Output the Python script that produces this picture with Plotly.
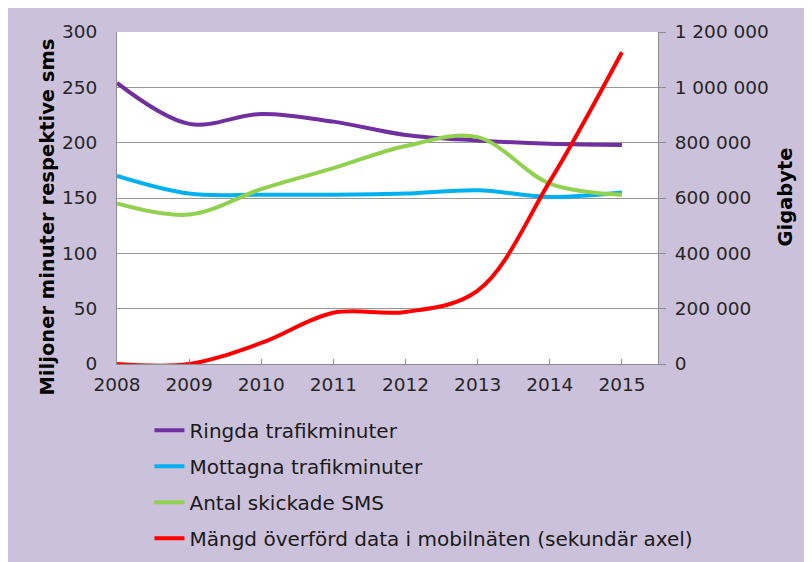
import plotly.graph_objects as go

years = [2008, 2009, 2010, 2011, 2012, 2013, 2014, 2015]
ringda = [254, 217, 226, 219, 207, 202, 199, 198]
mottagna = [170, 154, 153, 153, 154, 157, 151, 155]
sms = [145, 135, 158, 177, 197, 205, 163, 153]
data_gb = [0, 0, 76000, 185000, 188000, 265000, 660000, 1127000]

series_names = ["Ringda trafikminuter", "Mottagna trafikminuter", "Antal skickade SMS",
                "Mängd överförd data i mobilnäten (sekundär axel)"]
colors = ["#7030A0", "#00B0F0", "#92D050", "#FF0000"]

left_ticks = [0, 50, 100, 150, 200, 250, 300]
right_ticks = [0, 200000, 400000, 600000, 800000, 1000000, 1200000]
right_ticktext = ["0", "200 000", "400 000", "600 000", "800 000", "1 000 000", "1 200 000"]

FONT = "DejaVu Sans"
BG = "#CCC1DA"
FS = 20
TFS = 18.5

fig = go.Figure()
for name, vals, col in zip(series_names[:3], [ringda, mottagna, sms], colors[:3]):
    fig.add_trace(go.Scatter(x=years, y=vals, name=name, mode="lines",
                             line=dict(color=col, width=4, shape="spline"),
                             legendgroup=name, yaxis="y"))
fig.add_trace(go.Scatter(x=years, y=data_gb, name=series_names[3], mode="lines",
                         line=dict(color=colors[3], width=4, shape="spline"),
                         legendgroup=series_names[3], yaxis="y2"))

fig.update_layout(
    width=812, height=562,
    paper_bgcolor=BG, plot_bgcolor="white",
    margin=dict(l=109, r=162, t=24, b=200),
    font=dict(family=FONT, size=TFS, color="#262626"),
    showlegend=True,
    legend=dict(x=0.06, y=-0.141, xanchor="left", yanchor="top",
                orientation="v", tracegroupgap=7, bgcolor="rgba(0,0,0,0)",
                font=dict(family=FONT, size=FS, color="#1a1a1a")),
    xaxis=dict(range=[2008, 2015.5], tickvals=years, ticktext=[str(y) for y in years],
               showgrid=False, zeroline=False, showline=True, linecolor="#8C8C8C",
               ticks="inside", ticklen=5, tickcolor="#8C8C8C", ticklabelstandoff=4),
    yaxis=dict(range=[0, 300], tickvals=left_ticks, showgrid=True, gridcolor="#969696",
               gridwidth=1, zeroline=False, showline=True, linecolor="#8C8C8C",
               ticks="", ticklabelstandoff=15),
    yaxis2=dict(range=[0, 1200000], tickvals=right_ticks, ticktext=right_ticktext,
                overlaying="y", side="right", showgrid=False, zeroline=False,
                showline=True, linecolor="#8C8C8C", ticks="outside", ticklen=7,
                tickcolor="#8C8C8C", ticklabelstandoff=5),
)

fig.add_annotation(text="<b>Miljoner minuter respektive sms</b>", xref="paper", yref="paper",
                   x=(48 - 117) / 541, y=(363 - 217) / 331, textangle=-90,
                   showarrow=False, font=dict(family=FONT, size=19.5, color="black"),
                   xanchor="center", yanchor="middle")
fig.add_annotation(text="<b>Gigabyte</b>", xref="paper", yref="paper",
                   x=(785 - 117) / 541, y=(363 - 197) / 331, textangle=-90,
                   showarrow=False, font=dict(family=FONT, size=19.5, color="black"),
                   xanchor="center", yanchor="middle")

fig.write_html("out.html")
